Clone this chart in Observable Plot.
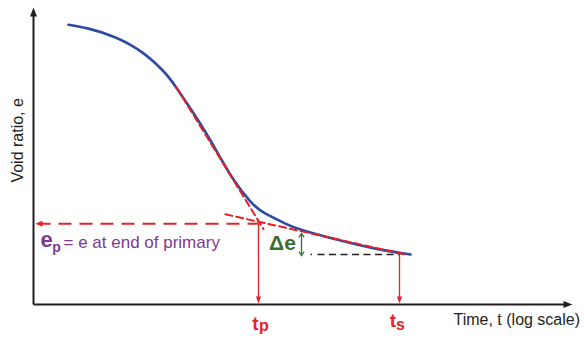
<!DOCTYPE html>
<html>
<head>
<meta charset="utf-8">
<script src="https://cdn.jsdelivr.net/npm/d3@7"></script>
<script src="https://cdn.jsdelivr.net/npm/@observablehq/plot@0.6"></script>
<style>
  html, body { margin: 0; padding: 0; background: #fff; }
</style>
</head>
<body>
<div id="chart"></div>
<script>
// Consolidation curve: void ratio against log of time
const logTime   = [0.35, 0.55, 0.82, 1.09, 1.29, 1.42, 1.64, 1.80, 2.00, 2.17, 2.30, 2.50, 2.70, 3.14, 3.47, 3.77];
const voidRatio = [1.071, 1.063, 1.045, 1.014, 0.978, 0.945, 0.878, 0.824, 0.755, 0.710, 0.688, 0.667, 0.651, 0.627, 0.612, 0.602];

// Tangent to the steep (primary) part and to the flat (secondary) part
const primaryT   = [1.43, 2.30];
const primaryE   = [0.943, 0.654];
const secondaryT = [1.92, 3.72];
const secondaryE = [0.684, 0.602];

// End of primary consolidation and the chosen later time
const tP = 2.25, eP = 0.665;
const tS = 3.66, eS = 0.602;
const eDeltaTop = 0.643;

// Axis extent
const xMin = 0, xMax = 5.39;
const yMin = 0.5, yMax = 1.106;

// Text
const yLabel = "Void ratio, e";
const xLabel = "Time, t (log scale)";
const epMain = "e", epSub = "p", epText = "= e at end of primary";
const tpMain = "t", tpSub = "p";
const tsMain = "t", tsSub = "s";
const deltaLabel = "\u0394e";

const RED = "#e8202a", BLUE = "#2c4c9e", GREEN = "#3b6e30", PURPLE = "#7d3a91", INK = "#231f20";
const FONT = "'Liberation Sans', Arial, sans-serif";

// Arrowhead symbols with the tip at the anchor point
const head = (dx, dy, len, half) => ({
  draw(ctx) {
    const px = -dy, py = dx;
    ctx.moveTo(0, 0);
    ctx.lineTo(-dx * len + px * half, -dy * len + py * half);
    ctx.lineTo(-dx * len - px * half, -dy * len - py * half);
    ctx.closePath();
  }
});
const chevron = (dx, dy, len, half) => ({
  draw(ctx) {
    const px = -dy, py = dx;
    ctx.moveTo(-dx * len + px * half, -dy * len + py * half);
    ctx.lineTo(0, 0);
    ctx.lineTo(-dx * len - px * half, -dy * len - py * half);
  }
});

const curve = logTime.map((t, i) => ({t, e: voidRatio[i]}));
const tan1 = primaryT.map((t, i) => ({t, e: primaryE[i]}));
const tan2 = secondaryT.map((t, i) => ({t, e: secondaryE[i]}));

const chart = Plot.plot({
  width: 584,
  height: 340,
  marginLeft: 33,
  marginRight: 12,
  marginTop: 10,
  marginBottom: 36,
  x: {domain: [xMin, xMax], axis: null},
  y: {domain: [yMin, 1.1], axis: null},
  style: {fontFamily: FONT, background: "white", overflow: "visible"},
  marks: [
    // axes
    Plot.link([0], {x1: xMin, y1: yMin, x2: xMin, y2: 1.09, stroke: INK, strokeWidth: 2}),
    Plot.link([0], {x1: xMin, y1: yMin, x2: 5.32, y2: yMin, stroke: INK, strokeWidth: 2}),
    Plot.dot([0], {x: xMin, y: yMax, symbol: head(0, -1, 9, 3.5), fill: INK, stroke: "none"}),
    Plot.dot([0], {x: xMax, y: yMin, symbol: head(1, 0, 9, 3.5), fill: INK, stroke: "none"}),

    // e_p level carried back to the void-ratio axis
    Plot.link([0], {x1: 0.04, y1: eP, x2: tP, y2: eP, stroke: RED, strokeWidth: 2, strokeDasharray: "13,8"}),
    Plot.dot([0], {x: 0.02, y: eP, symbol: head(-1, 0, 7, 3), fill: RED, stroke: "none"}),

    // drops to the time axis
    Plot.link([0], {x1: tP, y1: eP, x2: tP, y2: yMin + 0.008, stroke: RED, strokeWidth: 1.3}),
    Plot.dot([0], {x: tP, y: yMin + 0.002, symbol: head(0, 1, 7, 2.6), fill: RED, stroke: "none"}),
    Plot.link([0], {x1: tS, y1: eS, x2: tS, y2: yMin + 0.008, stroke: RED, strokeWidth: 1.3}),
    Plot.dot([0], {x: tS, y: yMin + 0.002, symbol: head(0, 1, 7, 2.6), fill: RED, stroke: "none"}),

    // level at t_s
    Plot.link([0], {x1: 2.77, y1: eS, x2: tS, y2: eS, stroke: INK, strokeWidth: 1.6,
      strokeDasharray: "1.5,5.5,7,4.5,7,4.5,7,4.5,7,4.5,7,4.5,7,4.5,7,4.5,7,4.5,7,4.5"}),

    // the consolidation curve
    Plot.line(curve, {x: "t", y: "e", curve: "natural", stroke: BLUE, strokeWidth: 2.6}),

    // tangents
    Plot.line(tan1, {x: "t", y: "e", stroke: RED, strokeWidth: 2, strokeDasharray: "7,4"}),
    Plot.line(tan2, {x: "t", y: "e", stroke: RED, strokeWidth: 2, strokeDasharray: "7,4"}),

    // Δe double arrow
    Plot.link([0], {x1: 2.68, y1: eDeltaTop, x2: 2.68, y2: eS, stroke: GREEN, strokeWidth: 1.3}),
    Plot.dot([0], {x: 2.68, y: eDeltaTop + 0.002, symbol: chevron(0, -1, 4, 2.6), fill: "none", stroke: GREEN, strokeWidth: 1.3}),
    Plot.dot([0], {x: 2.68, y: eS - 0.002, symbol: chevron(0, 1, 4, 2.6), fill: "none", stroke: GREEN, strokeWidth: 1.3}),
    Plot.text([deltaLabel], {x: 2.49, y: 0.624, text: d => d, fill: GREEN, fontSize: 21, fontWeight: "bold", textAnchor: "middle"}),

    // e_p annotation
    Plot.text([epMain], {x: 0.13, y: 0.631, text: d => d, fill: PURPLE, fontSize: 22, fontWeight: "bold", textAnchor: "middle"}),
    Plot.text([epSub], {x: 0.23, y: 0.617, text: d => d, fill: PURPLE, fontSize: 14, fontWeight: "bold", textAnchor: "middle"}),
    Plot.text([epText], {x: 0.30, y: 0.627, text: d => d, fill: PURPLE, fontSize: 17, textAnchor: "start"}),

    // time labels
    Plot.text([tpMain], {x: 2.22, y: 0.4614, text: d => d, fill: RED, fontSize: 19, fontWeight: "bold", textAnchor: "middle"}),
    Plot.text([tpSub], {x: 2.305, y: 0.4573, text: d => d, fill: RED, fontSize: 16, fontWeight: "bold", textAnchor: "middle"}),
    Plot.text([tsMain], {x: 3.595, y: 0.4655, text: d => d, fill: RED, fontSize: 19, fontWeight: "bold", textAnchor: "middle"}),
    Plot.text([tsSub], {x: 3.67, y: 0.4594, text: d => d, fill: RED, fontSize: 16, fontWeight: "bold", textAnchor: "middle"}),

    // axis titles
    Plot.text([yLabel], {x: -0.16, y: 0.835, text: d => d, fill: INK, fontSize: 16, rotate: -90, textAnchor: "middle"}),
    Plot.text([xLabel], {x: 4.20, y: 0.469, text: d => d, fill: INK, fontSize: 16, textAnchor: "start"})
  ]
});

document.getElementById("chart").appendChild(chart);
</script>
</body>
</html>
